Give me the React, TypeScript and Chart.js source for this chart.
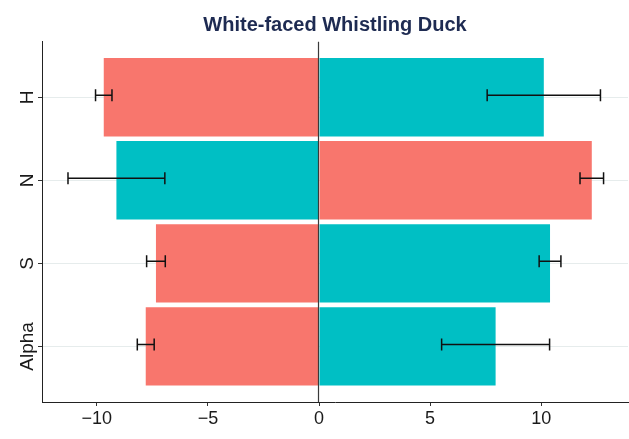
import React, { useEffect, useRef } from "react";
import { Chart, registerables } from "chart.js";

Chart.register(...registerables);

const chartTitle = "White-faced Whistling Duck";
const categories = ["H", "N", "S", "Alpha"];
const salmonValues = [-9.69, 12.28, -7.34, -7.8];
const salmonErrors = [0.37, 0.53, 0.42, 0.38];
const tealValues = [10.12, -9.12, 10.4, 7.95];
const tealErrors = [2.55, 2.18, 0.49, 2.43];
const xTickValues = [-10, -5, 0, 5, 10];

const SALMON = "#F8766D";
const TEAL = "#00BFC4";
const FONT = "'Liberation Sans', Arial, Helvetica, sans-serif";

const zeroLinePlugin = {
  id: "zeroLine",
  afterDatasetsDraw(chart: any) {
    const { ctx, chartArea } = chart;
    const xs = chart.scales.x;
    const x = Math.round(xs.getPixelForValue(0)) - 0.5;
    ctx.save();
    ctx.strokeStyle = "#3a3a3a";
    ctx.lineWidth = 1.2;
    ctx.beginPath();
    ctx.moveTo(x, chartArea.top);
    ctx.lineTo(x, chartArea.bottom);
    ctx.stroke();
    ctx.restore();
  },
};

const errorBarPlugin = {
  id: "errorBars",
  afterDatasetsDraw(chart: any) {
    const { ctx } = chart;
    const xs = chart.scales.x;
    const ys = chart.scales.y;
    const sets = [
      { v: salmonValues, e: salmonErrors },
      { v: tealValues, e: tealErrors },
    ];
    ctx.save();
    ctx.strokeStyle = "#111111";
    ctx.lineWidth = 1.5;
    sets.forEach((s) => {
      s.v.forEach((val, i) => {
        const y = ys.getPixelForValue(i) - 2;
        const x1 = xs.getPixelForValue(val - s.e[i]);
        const x2 = xs.getPixelForValue(val + s.e[i]);
        const cap = 6;
        ctx.beginPath();
        ctx.moveTo(x1, y);
        ctx.lineTo(x2, y);
        ctx.moveTo(x1, y - cap);
        ctx.lineTo(x1, y + cap);
        ctx.moveTo(x2, y - cap);
        ctx.lineTo(x2, y + cap);
        ctx.stroke();
      });
    });
    ctx.restore();
  },
};

const yLabelPlugin = {
  id: "yLabels",
  afterDraw(chart: any) {
    const { ctx } = chart;
    const ys = chart.scales.y;
    ctx.save();
    ctx.fillStyle = "#1a1a1a";
    ctx.font = `19px ${FONT}`;
    ctx.textAlign = "center";
    ctx.textBaseline = "alphabetic";
    categories.forEach((c, i) => {
      const y = ys.getPixelForValue(i);
      ctx.save();
      ctx.translate(33, y);
      ctx.rotate(-Math.PI / 2);
      ctx.fillText(c, 0, 0);
      ctx.restore();
    });
    ctx.restore();
  },
};

export default function App() {
  const ref = useRef<HTMLCanvasElement | null>(null);

  useEffect(() => {
    if (!ref.current) return;
    const chart = new Chart(ref.current, {
      type: "bar",
      data: {
        datasets: [
          {
            label: "A",
            data: salmonValues.map((v, i) => ({ x: v, y: i })),
            backgroundColor: SALMON,
            borderWidth: 0,
            grouped: false,
            categoryPercentage: 0.945,
            barPercentage: 1,
          },
          {
            label: "B",
            data: tealValues.map((v, i) => ({ x: v, y: i })),
            backgroundColor: TEAL,
            borderWidth: 0,
            grouped: false,
            categoryPercentage: 0.945,
            barPercentage: 1,
          },
        ],
      },
      options: {
        indexAxis: "y",
        responsive: false,
        animation: false,
        layout: { padding: { left: 0, right: 1, top: 0, bottom: 0 } },
        plugins: {
          legend: { display: false },
          tooltip: { enabled: false },
          title: {
            display: true,
            text: chartTitle,
            fullSize: false,
            color: "#1e2b52",
            font: { family: FONT, size: 20, weight: "bold", lineHeight: 1.2 },
            padding: { top: 13.3, bottom: 4.4 },
          },
        },
        scales: {
          x: {
            type: "linear",
            min: -12.47,
            max: 13.91,
            offset: false,
            afterBuildTicks: (scale: any) => {
              scale.ticks = xTickValues.map((v) => ({ value: v }));
            },
            afterFit: (scale: any) => {
              scale.height = 37;
            },
            ticks: {
              stepSize: 5,
              includeBounds: false,
              color: "#1a1a1a",
              font: { family: FONT, size: 18 },
              padding: 2,
              maxRotation: 0,
              callback: (v: any) => {
                const n = Number(v);
                return n < 0 ? "\u2212" + Math.abs(n) : String(n);
              },
            },
            grid: {
              offset: false,
              drawOnChartArea: false,
              lineWidth: 1,
              tickLength: 4,
              tickColor: "#333333",
            },
            border: { display: true, color: "#222222", width: 1, z: 1 },
          },
          y: {
            type: "linear",
            reverse: true,
            offset: false,
            min: -0.67,
            max: 3.67,
            afterBuildTicks: (scale: any) => {
              scale.ticks = categories.map((_, i) => ({ value: i }));
            },
            afterFit: (scale: any) => {
              scale.width = 42;
            },
            ticks: {
              display: false,
              stepSize: 1,
              includeBounds: false,
            },
            grid: {
              offset: false,
              color: "#e6ecec",
              lineWidth: 1,
              tickLength: 4,
              tickColor: "#333333",
            },
            border: { display: true, color: "#222222", width: 1 },
          },
        },
      },
      plugins: [zeroLinePlugin, errorBarPlugin, yLabelPlugin],
    } as any);
    return () => chart.destroy();
  }, []);

  return (
    <div style={{ position: "fixed", left: 0, top: 0, width: 629, height: 439, background: "#ffffff" }}>
      <canvas ref={ref} width={629} height={439} style={{ display: "block" }} />
    </div>
  );
}
